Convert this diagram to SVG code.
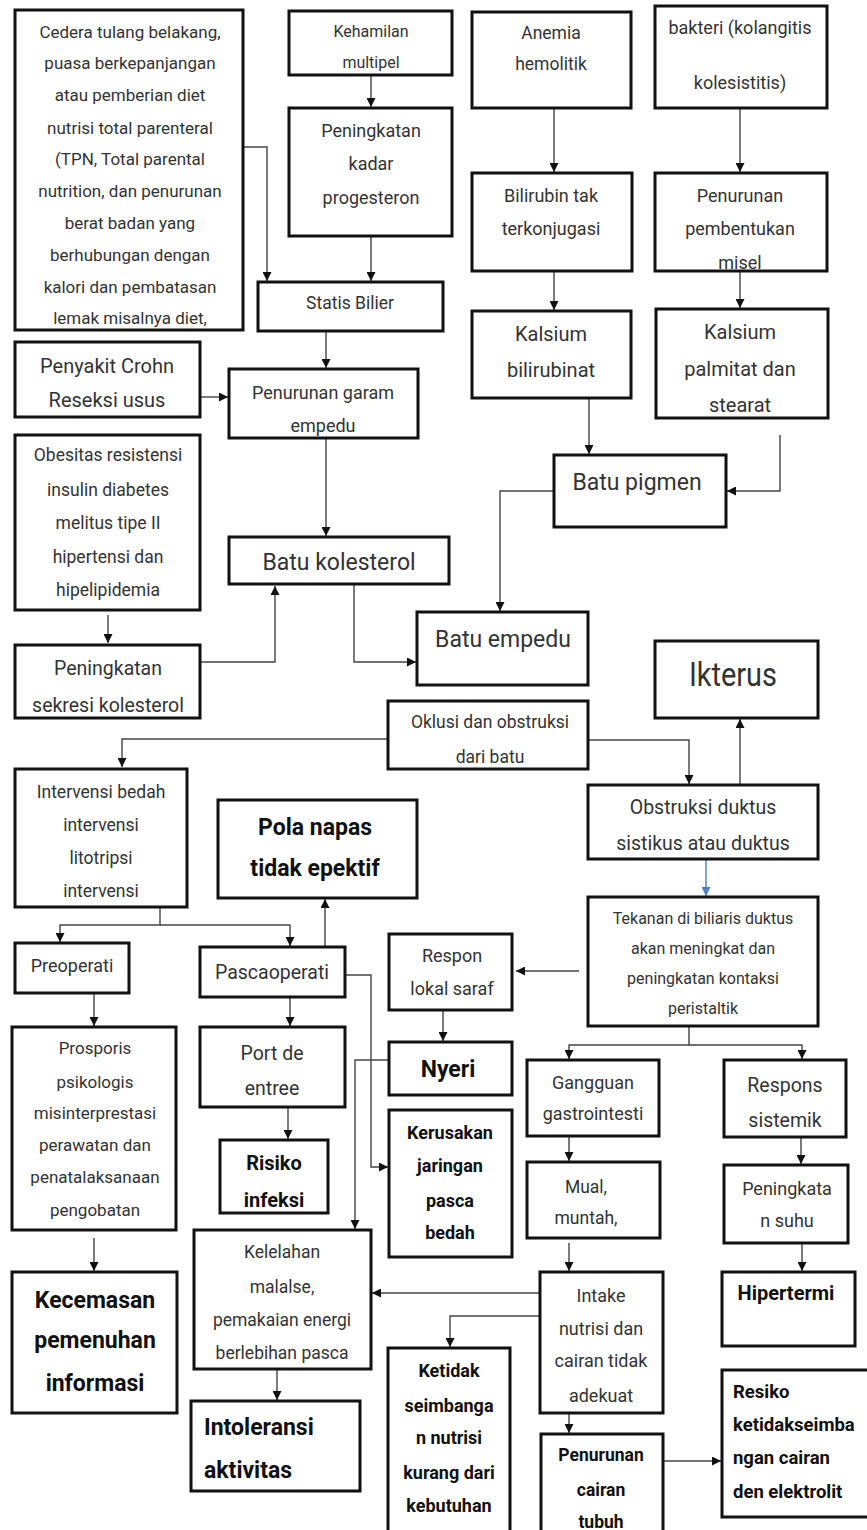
<svg xmlns="http://www.w3.org/2000/svg" width="867" height="1530" viewBox="0 0 867 1530">
<style>
.box{fill:#fff;stroke:#111;stroke-width:3}
text{font-family:Roboto,"Liberation Sans",sans-serif;fill:#333;text-anchor:middle;dominant-baseline:central}
.b text,text.b{font-weight:bold;fill:#111}
.s text{text-anchor:start}
.c{fill:none;stroke:#444;stroke-width:1.4;marker-end:url(#ah)}
.c2{fill:none;stroke:#444;stroke-width:1.4}
.blue{fill:none;stroke:#4a7fc1;stroke-width:1.4;marker-end:url(#ahb)}
</style>
<defs>
<marker id="ah" viewBox="0 0 10 10" refX="10" refY="5" markerWidth="10" markerHeight="9" markerUnits="userSpaceOnUse" orient="auto"><path d="M0,0 L10,5 L0,10 z" fill="#111"/></marker>
<marker id="ahb" viewBox="0 0 10 10" refX="10" refY="5" markerWidth="10" markerHeight="9" markerUnits="userSpaceOnUse" orient="auto"><path d="M0,0 L10,5 L0,10 z" fill="#4a7fc1"/></marker>
</defs>
<rect width="867" height="1530" fill="#fff"/>

<g id="connectors">
<path class="c" d="M243,147 H267 V281"/>
<path class="c" d="M371,75 V107"/>
<path class="c" d="M371,236 V281"/>
<path class="c" d="M326,331 V368"/>
<path class="c" d="M200,397 H228"/>
<path class="c" d="M326,438 V536"/>
<path class="c" d="M108,615 V643"/>
<path class="c" d="M200,662 H275 V586"/>
<path class="c" d="M354,585 V662 H416"/>
<path class="c" d="M554,108 V172"/>
<path class="c" d="M554,271 V310"/>
<path class="c" d="M589,398 V454"/>
<path class="c" d="M740,108 V172"/>
<path class="c" d="M740,271 V308"/>
<path class="c" d="M780,435 V491 H727"/>
<path class="c" d="M554,491 H500 V611"/>
<path class="c" d="M388,739 H122 V767"/>
<path class="c" d="M588,740 H689 V784"/>
<path class="c" d="M740,784 V719"/>
<path class="blue" d="M706,859 V896"/>
<path class="c" d="M160,907 V925 H60 V942"/>
<path class="c" d="M160,925 H290 V946"/>
<path class="c" d="M325,947 V899"/>
<path class="c" d="M94,993 V1026"/>
<path class="c" d="M290,997 V1026"/>
<path class="c" d="M288,1107 V1139"/>
<path class="c" d="M345,975 H371 V1167 H388"/>
<path class="c" d="M579,971 H516"/>
<path class="c" d="M443,1010 V1041"/>
<path class="c" d="M389,1060 H355 V1229"/>
<path class="c" d="M689,1026 V1045 H569 V1059"/>
<path class="c" d="M689,1045 H802 V1059"/>
<path class="c" d="M569,1136 V1161"/>
<path class="c" d="M801,1137 V1164"/>
<path class="c" d="M569,1243 V1271"/>
<path class="c" d="M802,1243 V1271"/>
<path class="c" d="M540,1293 H372"/>
<path class="c" d="M540,1316 H450 V1347"/>
<path class="c" d="M569,1413 V1433"/>
<path class="c" d="M663,1461 H721"/>
<path class="c" d="M94,1238 V1271"/>
<path class="c" d="M277,1369 V1400"/>
</g>

<g id="n1" font-size="17"><rect class="box" x="15" y="10" width="228" height="320"/>
<text x="130" y="32">Cedera tulang belakang,</text>
<text x="130" y="63">puasa berkepanjangan</text>
<text x="130" y="95">atau pemberian diet</text>
<text x="130" y="128">nutrisi total parenteral</text>
<text x="130" y="159">(TPN, Total parental</text>
<text x="130" y="191">nutrition, dan penurunan</text>
<text x="130" y="223">berat badan yang</text>
<text x="130" y="255">berhubungan dengan</text>
<text x="130" y="287">kalori dan pembatasan</text>
<text x="130" y="318">lemak misalnya diet,</text></g>

<g id="n2" font-size="16"><rect class="box" x="289" y="11" width="163" height="64"/>
<text x="371" y="31">Kehamilan</text><text x="371" y="62">multipel</text></g>

<g id="n3" font-size="18"><rect class="box" x="289" y="108" width="163" height="128"/>
<text x="371" y="130">Peningkatan</text><text x="371" y="163">kadar</text><text x="371" y="197">progesteron</text></g>

<g id="n4" font-size="17.5"><rect class="box" x="258" y="282" width="185" height="49"/>
<text x="350" y="303">Statis Bilier</text></g>

<g id="n5" font-size="20"><rect class="box" x="15" y="342" width="185" height="75"/>
<text x="107" y="366">Penyakit Crohn</text><text x="107" y="400">Reseksi usus</text></g>

<g id="n6" font-size="18"><rect class="box" x="229" y="369" width="189" height="69"/>
<text x="323" y="392">Penurunan garam</text><text x="323" y="425">empedu</text></g>

<g id="n7" font-size="17.5"><rect class="box" x="472" y="12" width="159" height="96"/>
<text x="551" y="33">Anemia</text><text x="551" y="64">hemolitik</text></g>

<g id="n8" font-size="18"><rect class="box" x="472" y="173" width="160" height="98"/>
<text x="551" y="195">Bilirubin tak</text><text x="551" y="228">terkonjugasi</text></g>

<g id="n9" font-size="20"><rect class="box" x="472" y="311" width="159" height="87"/>
<text x="551" y="334">Kalsium</text><text x="551" y="370">bilirubinat</text></g>

<g id="n10" font-size="18"><rect class="box" x="655" y="6" width="172" height="102"/>
<text x="740" y="27">bakteri (kolangitis</text><text x="740" y="82">kolesistitis)</text></g>

<g id="n11" font-size="18"><rect class="box" x="655" y="173" width="172" height="98"/>
<text x="740" y="195">Penurunan</text><text x="740" y="228">pembentukan</text><text x="740" y="262">misel</text></g>

<g id="n12" font-size="20"><rect class="box" x="656" y="309" width="172" height="109"/>
<text x="740" y="332">Kalsium</text><text x="740" y="369">palmitat dan</text><text x="740" y="405">stearat</text></g>

<g id="n13" font-size="23"><rect class="box" x="554" y="455" width="172" height="72"/>
<text x="637" y="482">Batu pigmen</text></g>

<g id="n14" font-size="17.5"><rect class="box" x="15" y="435" width="185" height="175"/>
<text x="108" y="455">Obesitas resistensi</text><text x="108" y="490">insulin diabetes</text><text x="108" y="523">melitus tipe II</text><text x="108" y="557">hipertensi dan</text><text x="108" y="590">hipelipidemia</text></g>

<g id="n15" font-size="19.5"><rect class="box" x="15" y="645" width="185" height="73"/>
<text x="108" y="668">Peningkatan</text><text x="108" y="705">sekresi kolesterol</text></g>

<g id="n16" font-size="23"><rect class="box" x="229" y="537" width="220" height="47"/>
<text x="339" y="562">Batu kolesterol</text></g>

<g id="n17" font-size="23"><rect class="box" x="417" y="612" width="171" height="73"/>
<text x="503" y="639">Batu empedu</text></g>

<g id="n18" font-size="33"><rect class="box" x="655" y="641" width="163" height="77"/>
<text x="733" y="674" textLength="88" lengthAdjust="spacingAndGlyphs">Ikterus</text></g>

<g id="n19" font-size="17.5"><rect class="box" x="388" y="701" width="200" height="68"/>
<text x="490" y="722">Oklusi dan obstruksi</text><text x="490" y="757">dari batu</text></g>

<g id="n20" font-size="17.5"><rect class="box" x="15" y="769" width="172" height="138"/>
<text x="101" y="792">Intervensi bedah</text><text x="101" y="825">intervensi</text><text x="101" y="858">litotripsi</text><text x="101" y="891">intervensi</text></g>

<g id="n21" font-size="19.5"><rect class="box" x="588" y="785" width="230" height="74"/>
<text x="703" y="807">Obstruksi duktus</text><text x="703" y="843">sistikus atau duktus</text></g>

<g id="n22" class="b" font-size="23"><rect class="box" x="218" y="800" width="199" height="98"/>
<text x="315" y="827">Pola napas</text><text x="315" y="868">tidak epektif</text></g>

<g id="n23" font-size="16"><rect class="box" x="588" y="897" width="230" height="129"/>
<text x="703" y="918">Tekanan di biliaris duktus</text><text x="703" y="948">akan meningkat dan</text><text x="703" y="978">peningkatan kontaksi</text><text x="703" y="1008">peristaltik</text></g>

<g id="n24" font-size="18"><rect class="box" x="15" y="943" width="114" height="50"/>
<text x="72" y="965">Preoperati</text></g>

<g id="n25" font-size="19.5"><rect class="box" x="200" y="947" width="145" height="50"/>
<text x="272" y="972">Pascaoperati</text></g>

<g id="n26" font-size="18"><rect class="box" x="389" y="934" width="123" height="76"/>
<text x="452" y="955">Respon</text><text x="452" y="988">lokal saraf</text></g>

<g id="n27" font-size="17"><rect class="box" x="12" y="1027" width="164" height="203"/>
<text x="95" y="1048">Prosporis</text><text x="95" y="1082">psikologis</text><text x="95" y="1113">misinterprestasi</text><text x="95" y="1145">perawatan dan</text><text x="95" y="1177">penatalaksanaan</text><text x="95" y="1210">pengobatan</text></g>

<g id="n28" font-size="19.5"><rect class="box" x="200" y="1027" width="145" height="80"/>
<text x="272" y="1053">Port de</text><text x="272" y="1088">entree</text></g>

<g id="n29" class="b" font-size="23"><rect class="box" x="389" y="1042" width="123" height="53"/>
<text x="448" y="1069">Nyeri</text></g>

<g id="n30" font-size="18"><rect class="box" x="527" y="1060" width="132" height="76"/>
<text x="593" y="1082">Gangguan</text><text x="593" y="1113">gastrointesti</text></g>

<g id="n31" font-size="19.5"><rect class="box" x="724" y="1060" width="122" height="77"/>
<text x="785" y="1085">Respons</text><text x="785" y="1120">sistemik</text></g>

<g id="n32" class="b" font-size="18"><rect class="box" x="389" y="1110" width="123" height="147"/>
<text x="450" y="1132">Kerusakan</text><text x="450" y="1165">jaringan</text><text x="450" y="1200">pasca</text><text x="450" y="1232">bedah</text></g>

<g id="n33" class="b" font-size="20"><rect class="box" x="220" y="1140" width="108" height="73"/>
<text x="274" y="1163">Risiko</text><text x="274" y="1200">infeksi</text></g>

<g id="n34" font-size="17.5"><rect class="box" x="527" y="1162" width="133" height="76"/>
<text x="586" y="1187">Mual,</text><text x="586" y="1218">muntah,</text></g>

<g id="n35" font-size="18"><rect class="box" x="724" y="1165" width="124" height="78"/>
<text x="787" y="1188">Peningkata</text><text x="787" y="1220">n suhu</text></g>

<g id="n36" font-size="17.5"><rect class="box" x="194" y="1230" width="177" height="139"/>
<text x="282" y="1252">Kelelahan</text><text x="282" y="1287">malalse,</text><text x="282" y="1320">pemakaian energi</text><text x="282" y="1353">berlebihan pasca</text></g>

<g id="n37" font-size="18"><rect class="box" x="540" y="1272" width="123" height="141"/>
<text x="601" y="1295">Intake</text><text x="601" y="1328">nutrisi dan</text><text x="601" y="1360">cairan tidak</text><text x="601" y="1395">adekuat</text></g>

<g id="n38" class="b" font-size="20"><rect class="box" x="722" y="1272" width="133" height="74"/>
<text x="786" y="1293">Hipertermi</text></g>

<g id="n39" class="b" font-size="23"><rect class="box" x="12" y="1272" width="165" height="141"/>
<text x="95" y="1300">Kecemasan</text><text x="95" y="1340">pemenuhan</text><text x="95" y="1383">informasi</text></g>

<g id="n40" class="b" font-size="18"><rect class="box" x="388" y="1348" width="122" height="200"/>
<text x="449" y="1370">Ketidak</text><text x="449" y="1405">seimbanga</text><text x="449" y="1437">n nutrisi</text><text x="449" y="1472">kurang dari</text><text x="449" y="1505">kebutuhan</text></g>

<g id="n41" class="b s" font-size="18.5"><rect class="box" x="722" y="1370" width="160" height="147"/>
<text x="733" y="1392">Resiko</text><text x="733" y="1425">ketidakseimba</text><text x="733" y="1458">ngan cairan</text><text x="733" y="1492">den elektrolit</text></g>

<g id="n42" class="b" font-size="17.5"><rect class="box" x="541" y="1434" width="122" height="110"/>
<text x="601" y="1455">Penurunan</text><text x="601" y="1490">cairan</text><text x="601" y="1522">tubuh</text></g>

<g id="n43" class="b s" font-size="23"><rect class="box" x="191" y="1401" width="169" height="90"/>
<text x="204" y="1427">Intoleransi</text><text x="204" y="1470">aktivitas</text></g>
</svg>
